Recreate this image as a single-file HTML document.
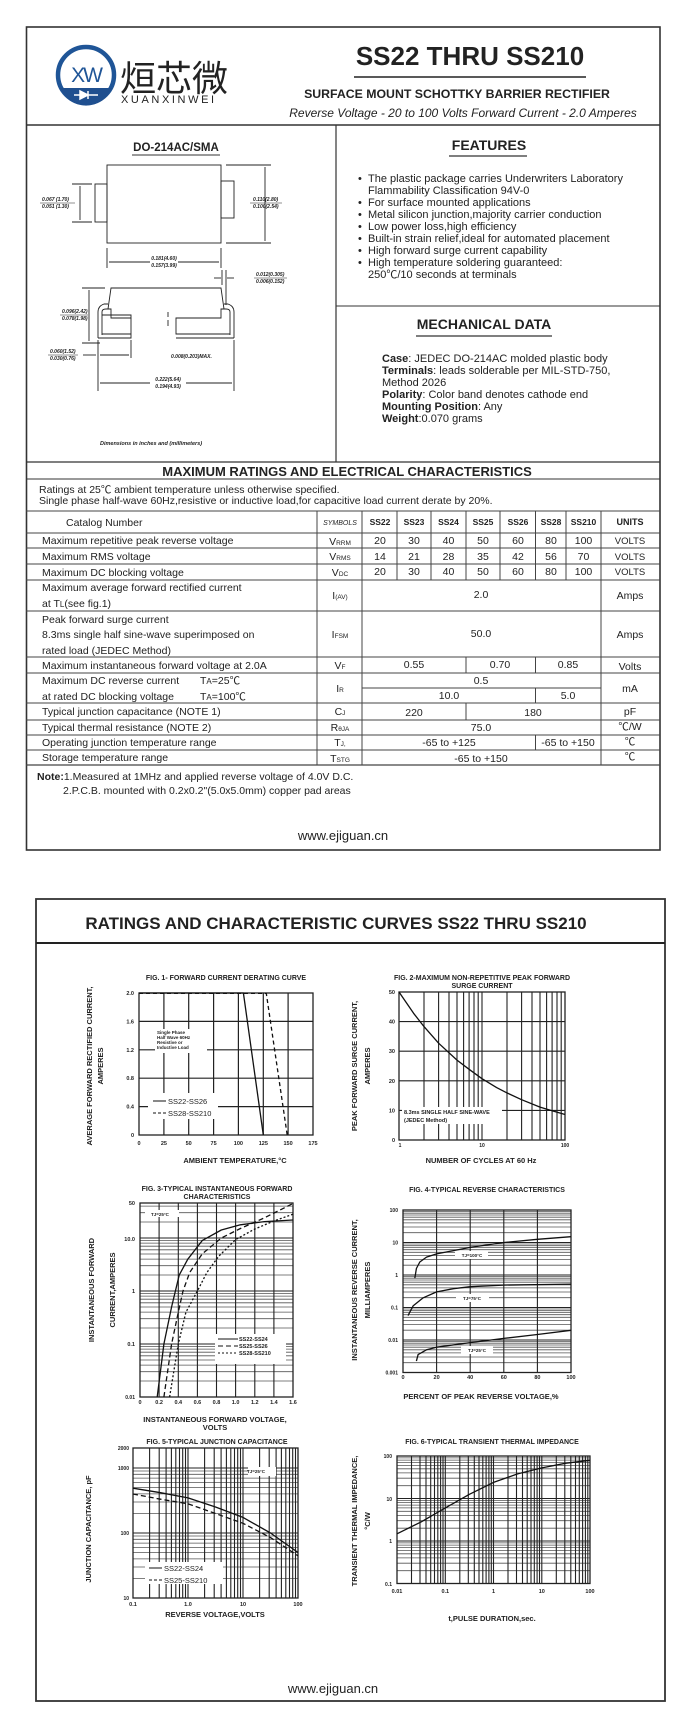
<!DOCTYPE html>
<html><head><meta charset="utf-8">
<style>
html,body{margin:0;padding:0;background:#fff;}
svg{display:block;}
text{font-family:"Liberation Sans","Noto Sans CJK SC",sans-serif;fill:#222;}
.b{font-weight:bold;}
.d{font-size:5px;font-style:italic;font-weight:bold;}
.t{font-size:11px;}
.ft{font-size:7px;font-weight:bold;}
.ax{font-size:7.5px;font-weight:bold;}
.k{font-size:5.5px;font-weight:bold;}
.gM{fill:none;stroke:#222;stroke-width:1.1;}
.gm{fill:none;stroke:#555;stroke-width:0.8;}
.bx{fill:none;stroke:#222;stroke-width:1.3;}
.c{fill:none;stroke:#111;stroke-width:1.3;stroke-linejoin:round;}
</style></head><body>
<svg width="694" height="1736" viewBox="0 0 694 1736" xmlns="http://www.w3.org/2000/svg">
<rect width="694" height="1736" fill="#fff"/>
<!-- PAGE 1 -->
<rect x="26.5" y="27" width="633.5" height="823" fill="none" stroke="#333" stroke-width="1.6"/>
<line x1="26" y1="125" x2="660" y2="125" stroke="#333" stroke-width="1.5"/>
<line x1="336" y1="125" x2="336" y2="462" stroke="#333" stroke-width="1.2"/>
<line x1="336" y1="306" x2="660" y2="306" stroke="#333" stroke-width="1"/>
<line x1="26" y1="462" x2="660" y2="462" stroke="#333" stroke-width="1.2"/>
<line x1="26" y1="479" x2="660" y2="479" stroke="#333" stroke-width="1"/>
<!-- logo -->
<circle cx="86" cy="75" r="28" fill="none" stroke="#1f5597" stroke-width="4.5"/>
<path d="M60,88 A28,28 0 0 0 112,88 Z" fill="#1f4f8f"/>
<path d="M74,95 L98,95 M80,91 L80,99 L88,95 Z M88,91 L88,99" stroke="#fff" stroke-width="1.5" fill="#fff"/>
<text x="86" y="82" text-anchor="middle" style="font-size:21px;fill:#1f5597;letter-spacing:-2px">XW</text>
<text x="120" y="91" style="font-size:36px;font-family:'Noto Sans CJK SC','WenQuanYi Zen Hei',sans-serif;fill:#222;">烜芯微</text>
<text x="121" y="103" style="font-size:11px;letter-spacing:2.6px">XUANXINWEI</text>
<text x="470" y="65" text-anchor="middle" class="b" style="font-size:26px">SS22 THRU SS210</text>
<line x1="354" y1="77" x2="586" y2="77" stroke="#222" stroke-width="1.5"/>
<text x="457" y="98" text-anchor="middle" class="b" style="font-size:12.3px">SURFACE MOUNT SCHOTTKY BARRIER RECTIFIER</text>
<text x="463" y="117" text-anchor="middle" style="font-size:12px;font-style:italic">Reverse Voltage - 20 to 100 Volts    Forward Current -  2.0 Amperes</text>
<!-- drawing -->
<text x="176" y="151" text-anchor="middle" class="b" style="font-size:11.5px">DO-214AC/SMA</text>
<line x1="132" y1="155" x2="220" y2="155" stroke="#333"/>
<g fill="none" stroke="#222" stroke-width="0.9">
<rect x="107" y="165" width="114" height="78"/>
<rect x="95" y="184" width="12" height="38"/>
<rect x="221" y="181" width="13" height="37"/>
<line x1="72" y1="184" x2="92" y2="184"/><line x1="72" y1="222" x2="92" y2="222"/>
<line x1="80" y1="186" x2="80" y2="220"/>
<line x1="226" y1="165" x2="271" y2="165"/><line x1="226" y1="243" x2="271" y2="243"/>
<line x1="265" y1="167" x2="265" y2="241"/>
<line x1="107" y1="248" x2="107" y2="268"/><line x1="221" y1="248" x2="221" y2="268"/>
<line x1="109" y1="262" x2="150" y2="262"/><line x1="178" y1="262" x2="219" y2="262"/>
<path d="M108,309 L111,288 L221,288 L224,309"/>
<path d="M98,338 L98,312 Q98,306 104,304 L108,304 M102,335 L102,312 Q102,309 106,309 L111,309 L111,318 L131,318 L131,315 L102,315"/>
<path d="M98,338 L131,338 L131,334 L102,334 M234,338 L234,312 Q234,306 228,304 L224,304 M230,335 L230,312 Q230,309 226,309 L221,309 L221,318 L176,318 L176,334 L230,334 M176,338 L234,338 M131,334 L131,318 M131,338 L131,334"/>
<line x1="82" y1="288" x2="105" y2="288"/><line x1="82" y1="343" x2="100" y2="343"/>
<line x1="89" y1="290" x2="89" y2="341"/>
<line x1="222" y1="270" x2="222" y2="285"/><line x1="226" y1="270" x2="226" y2="305"/>
<line x1="214" y1="278" x2="221" y2="278"/><line x1="227" y1="278" x2="234" y2="278"/>
<line x1="98" y1="340" x2="98" y2="391"/><line x1="234" y1="340" x2="234" y2="391"/>
<line x1="131" y1="340" x2="131" y2="358"/>
<line x1="83" y1="355" x2="96" y2="355"/><line x1="100" y1="355" x2="129" y2="355"/>
<line x1="100" y1="383" x2="150" y2="383"/><line x1="186" y1="383" x2="232" y2="383"/>
<line x1="168" y1="312" x2="168" y2="317"/><line x1="168" y1="320" x2="168" y2="326"/>
</g>
<g>
<text x="42" y="201" class="d">0.067 (1.70)</text><line x1="40" y1="203" x2="75" y2="203" stroke="#222" stroke-width=".5"/><text x="42" y="208" class="d">0.051 (1.30)</text>
<text x="253" y="201" class="d">0.110(2.80)</text><line x1="250" y1="203" x2="282" y2="203" stroke="#222" stroke-width=".5"/><text x="253" y="208" class="d">0.100(2.54)</text>
<text x="164" y="260" text-anchor="middle" class="d">0.181(4.60)</text><text x="164" y="267" text-anchor="middle" class="d">0.157(3.99)</text>
<text x="256" y="276" class="d">0.012(0.305)</text><line x1="254" y1="278" x2="287" y2="278" stroke="#222" stroke-width=".5"/><text x="256" y="283" class="d">0.006(0.152)</text>
<text x="62" y="313" class="d">0.096(2.42)</text><line x1="60" y1="315" x2="88" y2="315" stroke="#222" stroke-width=".5"/><text x="62" y="320" class="d">0.078(1.98)</text>
<text x="50" y="353" class="d">0.060(1.52)</text><line x1="48" y1="355" x2="78" y2="355" stroke="#222" stroke-width=".5"/><text x="50" y="360" class="d">0.030(0.76)</text>
<text x="171" y="358" class="d">0.008(0.203)MAX.</text>
<text x="168" y="381" text-anchor="middle" class="d">0.222(5.64)</text><text x="168" y="388" text-anchor="middle" class="d">0.194(4.93)</text>
<text x="100" y="445" class="d" style="font-size:5.5px">Dimensions in inches and (millimeters)</text>
</g>
<!-- features -->
<text x="489" y="150" text-anchor="middle" class="b" style="font-size:14px">FEATURES</text>
<line x1="449" y1="156" x2="527" y2="156" stroke="#333" stroke-width="1.2"/>
<g style="font-size:11px">
<text x="358" y="182">•</text><text x="368" y="182">The plastic package carries Underwriters Laboratory</text>
<text x="368" y="194">Flammability Classification 94V-0</text>
<text x="358" y="206">•</text><text x="368" y="206">For surface mounted applications</text>
<text x="358" y="218">•</text><text x="368" y="218">Metal silicon junction,majority carrier conduction</text>
<text x="358" y="230">•</text><text x="368" y="230">Low power loss,high efficiency</text>
<text x="358" y="242">•</text><text x="368" y="242">Built-in strain relief,ideal for automated placement</text>
<text x="358" y="254">•</text><text x="368" y="254">High forward surge current capability</text>
<text x="358" y="266">•</text><text x="368" y="266">High temperature soldering guaranteed:</text>
<text x="368" y="278">250℃/10 seconds at terminals</text>
</g>
<text x="484" y="329" text-anchor="middle" class="b" style="font-size:14px">MECHANICAL DATA</text>
<line x1="416" y1="336" x2="552" y2="336" stroke="#333" stroke-width="1.2"/>
<g style="font-size:11px">
<text x="382" y="362"><tspan class="b">Case</tspan>: JEDEC DO-214AC molded plastic body</text>
<text x="382" y="374"><tspan class="b">Terminals</tspan>: leads solderable per MIL-STD-750,</text>
<text x="382" y="386">Method 2026</text>
<text x="382" y="398"><tspan class="b">Polarity</tspan>: Color band denotes cathode end</text>
<text x="382" y="410"><tspan class="b">Mounting Position</tspan>: Any</text>
<text x="382" y="422"><tspan class="b">Weight</tspan>:0.070 grams</text>
</g>
<!-- ratings table -->
<text x="347" y="476" text-anchor="middle" class="b" style="font-size:13px">MAXIMUM RATINGS AND ELECTRICAL CHARACTERISTICS</text>
<text x="39" y="493" style="font-size:10.5px">Ratings at 25℃ ambient temperature unless otherwise specified.</text>
<text x="39" y="504" style="font-size:10.5px">Single phase half-wave 60Hz,resistive or inductive load,for capacitive load current derate by 20%.</text>
<g stroke="#444" stroke-width="1">
<line x1="26" y1="511" x2="660" y2="511"/>
<line x1="26" y1="533" x2="660" y2="533"/>
<line x1="26" y1="548" x2="660" y2="548"/>
<line x1="26" y1="564" x2="660" y2="564"/>
<line x1="26" y1="580" x2="660" y2="580"/>
<line x1="26" y1="611" x2="660" y2="611"/>
<line x1="26" y1="657" x2="660" y2="657"/>
<line x1="26" y1="673" x2="660" y2="673"/>
<line x1="362" y1="688" x2="601" y2="688"/>
<line x1="26" y1="703" x2="660" y2="703"/>
<line x1="26" y1="720" x2="660" y2="720"/>
<line x1="26" y1="735" x2="660" y2="735"/>
<line x1="26" y1="750" x2="660" y2="750"/>
<line x1="26" y1="765" x2="660" y2="765" stroke-width="1.3"/>
<line x1="317" y1="511" x2="317" y2="765"/>
<line x1="362" y1="511" x2="362" y2="765"/>
<line x1="601" y1="511" x2="601" y2="765"/>
<line x1="397" y1="511" x2="397" y2="580"/>
<line x1="431" y1="511" x2="431" y2="580"/>
<line x1="466" y1="511" x2="466" y2="580"/>
<line x1="500" y1="511" x2="500" y2="580"/>
<line x1="535.5" y1="511" x2="535.5" y2="580"/>
<line x1="566" y1="511" x2="566" y2="580"/>
<line x1="466" y1="657" x2="466" y2="673"/>
<line x1="535.5" y1="657" x2="535.5" y2="673"/>
<line x1="535.5" y1="688" x2="535.5" y2="703"/>
<line x1="466" y1="703" x2="466" y2="720"/>
<line x1="535.5" y1="735" x2="535.5" y2="750"/>
</g>
<g style="font-size:10.5px">
<text x="66" y="526">Catalog  Number</text>
<text x="340" y="525" text-anchor="middle" style="font-size:7px;font-style:italic">SYMBOLS</text>
<g class="b" text-anchor="middle" style="font-size:8.5px">
<text x="380" y="525">SS22</text><text x="414" y="525">SS23</text><text x="448.5" y="525">SS24</text><text x="483" y="525">SS25</text><text x="518" y="525">SS26</text><text x="551" y="525">SS28</text><text x="583.5" y="525">SS210</text><text x="630" y="525" style="font-size:9px">UNITS</text>
</g>
<text x="42" y="544">Maximum repetitive peak reverse voltage</text>
<text x="42" y="560">Maximum RMS voltage</text>
<text x="42" y="576">Maximum DC blocking voltage</text>
<text x="42" y="591">Maximum average forward rectified current</text>
<text x="42" y="607">at T<tspan style="font-size:8px">L</tspan>(see fig.1)</text>
<text x="42" y="623">Peak forward surge current</text>
<text x="42" y="638">8.3ms single half sine-wave superimposed on</text>
<text x="42" y="654">rated load (JEDEC Method)</text>
<text x="42" y="669">Maximum instantaneous forward voltage at 2.0A</text>
<text x="42" y="684">Maximum DC reverse current</text><text x="200" y="684">T<tspan style="font-size:8px">A</tspan>=25℃</text>
<text x="42" y="700">at rated DC blocking voltage</text><text x="200" y="700">T<tspan style="font-size:8px">A</tspan>=100℃</text>
<text x="42" y="715">Typical junction capacitance (NOTE 1)</text>
<text x="42" y="731">Typical thermal resistance (NOTE 2)</text>
<text x="42" y="746">Operating junction temperature range</text>
<text x="42" y="761">Storage temperature range</text>
<g text-anchor="middle">
<text x="340" y="545">V<tspan style="font-size:6.5px">RRM</tspan></text>
<text x="340" y="560">V<tspan style="font-size:6.5px">RMS</tspan></text>
<text x="340" y="576">V<tspan style="font-size:6.5px">DC</tspan></text>
<text x="340" y="599">I<tspan style="font-size:6.5px">(AV)</tspan></text>
<text x="340" y="638">I<tspan style="font-size:6.5px">FSM</tspan></text>
<text x="340" y="669">V<tspan style="font-size:6.5px">F</tspan></text>
<text x="340" y="692">I<tspan style="font-size:6.5px">R</tspan></text>
<text x="340" y="715">C<tspan style="font-size:6.5px">J</tspan></text>
<text x="340" y="731">R<tspan style="font-size:6.5px">θJA</tspan></text>
<text x="340" y="746">T<tspan style="font-size:6.5px">J,</tspan></text>
<text x="340" y="762">T<tspan style="font-size:6.5px">STG</tspan></text>
<text x="380" y="544">20</text><text x="414" y="544">30</text><text x="448.5" y="544">40</text><text x="483" y="544">50</text><text x="518" y="544">60</text><text x="551" y="544">80</text><text x="583.5" y="544">100</text><text x="630" y="544" style="font-size:9.5px">VOLTS</text>
<text x="380" y="560">14</text><text x="414" y="560">21</text><text x="448.5" y="560">28</text><text x="483" y="560">35</text><text x="518" y="560">42</text><text x="551" y="560">56</text><text x="583.5" y="560">70</text><text x="630" y="560" style="font-size:9.5px">VOLTS</text>
<text x="380" y="575">20</text><text x="414" y="575">30</text><text x="448.5" y="575">40</text><text x="483" y="575">50</text><text x="518" y="575">60</text><text x="551" y="575">80</text><text x="583.5" y="575">100</text><text x="630" y="575" style="font-size:9.5px">VOLTS</text>
<text x="481" y="598">2.0</text><text x="630" y="599">Amps</text>
<text x="481" y="637">50.0</text><text x="630" y="638">Amps</text>
<text x="414" y="668">0.55</text><text x="500" y="668">0.70</text><text x="568" y="668">0.85</text><text x="630" y="670">Volts</text>
<text x="481" y="684">0.5</text><text x="449" y="699">10.0</text><text x="568" y="699">5.0</text><text x="630" y="692">mA</text>
<text x="414" y="716">220</text><text x="533" y="716">180</text><text x="630" y="715">pF</text>
<text x="481" y="731">75.0</text><text x="630" y="730">℃/W</text>
<text x="449" y="746">-65 to +125</text><text x="568" y="746">-65 to +150</text><text x="630" y="745">℃</text>
<text x="481" y="762">-65 to +150</text><text x="630" y="760">℃</text>
</g>
<text x="37" y="780"><tspan class="b">Note:</tspan>1.Measured at 1MHz and applied reverse voltage of 4.0V D.C.</text>
<text x="63" y="794">2.P.C.B. mounted with 0.2x0.2"(5.0x5.0mm) copper pad areas</text>
</g>
<text x="343" y="840" text-anchor="middle" style="font-size:13px">www.ejiguan.cn</text>

<!-- PAGE 2 -->
<rect x="36" y="899" width="629" height="802" fill="none" stroke="#333" stroke-width="1.8"/>
<line x1="36" y1="943" x2="665" y2="943" stroke="#222" stroke-width="2"/>
<text x="336" y="929" text-anchor="middle" class="b" style="font-size:17px">RATINGS AND CHARACTERISTIC CURVES SS22 THRU SS210</text>

<!-- FIG 1 -->
<path class="gM" style="stroke-width:1.2" d="M163.9 993V1135M188.7 993V1135M213.6 993V1135M238.4 993V1135M263.3 993V1135M288.1 993V1135M139 1106.6H313M139 1078.2H313M139 1049.8H313M139 1021.4H313"/>
<rect x="155" y="1029" width="52" height="24" fill="#fff"/>
<rect x="148" y="1093" width="70" height="26" fill="#fff"/>
<rect class="bx" x="139" y="993" width="174" height="142"/>
<polyline class="c" points="139,993 243.4,993 263.3,1135"/>
<polyline class="c" style="stroke-dasharray:4,3" points="139,993.4 266.3,993.4 287.2,1135"/>
<line x1="153" y1="1101" x2="166" y2="1101" stroke="#111"/>
<line x1="153" y1="1113" x2="166" y2="1113" stroke="#111" stroke-dasharray="3,2"/>
<text x="168" y="1104" style="font-size:7.5px">SS22-SS26</text>
<text x="168" y="1116" style="font-size:7.5px">SS28-SS210</text>
<g class="b" style="font-size:4.5px"><text x="157" y="1034">Single Phase</text><text x="157" y="1039">Half Wave 60Hz</text><text x="157" y="1044">Resistive or</text><text x="157" y="1049">Inductive Load</text></g>
<g class="k" text-anchor="middle"><text x="139" y="1145">0</text><text x="163.9" y="1145">25</text><text x="188.7" y="1145">50</text><text x="213.6" y="1145">75</text><text x="238.4" y="1145">100</text><text x="263.3" y="1145">125</text><text x="288.1" y="1145">150</text><text x="313" y="1145">175</text></g>
<g class="k" text-anchor="end"><text x="134" y="1137">0</text><text x="134" y="1108.6">0.4</text><text x="134" y="1080.2">0.8</text><text x="134" y="1051.8">1.2</text><text x="134" y="1023.4">1.6</text><text x="134" y="995">2.0</text></g>

<!-- FIG 2 -->
<path class="gM" d="M424 992V1140M438.6 992V1140M449 992V1140M457 992V1140M463.6 992V1140M469.1 992V1140M474 992V1140M478.2 992V1140M482 992V1140M507 992V1140M521.6 992V1140M532 992V1140M540 992V1140M546.6 992V1140M552.1 992V1140M557 992V1140M561.2 992V1140M399 1110.4H565M399 1080.8H565M399 1051.2H565M399 1021.6H565"/>
<rect x="402" y="1107" width="100" height="17" fill="#fff"/>
<rect class="bx" x="399" y="992" width="166" height="148"/>
<polyline class="c" points="399,992 413.6,1013.3 424,1026.6 438.6,1043.2 457,1060.1 469.1,1069.3 482,1078.7 496.6,1087.6 507,1092.9 521.6,1099.7 540,1107.1 552.1,1110.7 565,1114.5"/>
<text x="404" y="1114" class="k">8.3ms SINGLE HALF SINE-WAVE</text>
<text x="404" y="1122" class="k">(JEDEC Method)</text>
<g class="k" text-anchor="end"><text x="395" y="1142">0</text><text x="395" y="1112.4">10</text><text x="395" y="1082.8">20</text><text x="395" y="1053.2">30</text><text x="395" y="1023.6">40</text><text x="395" y="994">50</text></g>
<g class="k" text-anchor="middle" style="font-size:5px"><text x="400" y="1147">1</text><text x="482" y="1147">10</text><text x="565" y="1147">100</text></g>

<!-- FIG 3 -->
<path class="gm" d="M140 1381H293M140 1371.7H293M140 1365.1H293M140 1360H293M140 1355.8H293M140 1352.2H293M140 1349.1H293M140 1346.4H293M140 1328H293M140 1318.7H293M140 1312.1H293M140 1307H293M140 1302.8H293M140 1299.2H293M140 1296.1H293M140 1293.4H293M140 1275H293M140 1265.7H293M140 1259.1H293M140 1254H293M140 1249.8H293M140 1246.2H293M140 1243.1H293M140 1240.4H293M140 1222H293M140 1212.7H293M140 1206.1H293"/>
<path class="gM" d="M140 1344H293M140 1291H293M140 1238H293M159.1 1203V1397M178.3 1203V1397M197.4 1203V1397M216.5 1203V1397M235.6 1203V1397M254.8 1203V1397M273.9 1203V1397"/>
<rect x="145" y="1210" width="34" height="7" fill="#fff"/>
<rect x="215" y="1334" width="71" height="30" fill="#fff"/>
<rect class="bx" x="140" y="1203" width="153" height="194"/>
<polyline class="c" points="157.2,1397 163.9,1344 171.6,1306.9 175.4,1291 179.2,1275.1 187.8,1259.2 202.2,1240.6 221.3,1230 240.4,1224.8 264.3,1221.6 293,1220"/>
<polyline class="c" style="stroke-dasharray:5,3" points="163.9,1397 171.6,1344 178.3,1312.2 183,1291 189.7,1272.5 202.2,1253.9 221.3,1238 240.4,1228.5 264.3,1217.9 293,1203.5"/>
<polyline class="c" style="stroke-dasharray:2,2" points="169.6,1397 178.3,1344 185.9,1312.2 197.4,1291 206.9,1272.5 218.4,1256.6 235.6,1239.6 254.8,1229 273.9,1221 293,1214.2"/>
<text x="151" y="1216" class="b" style="font-size:4.5px">TJ=25°C</text>
<line x1="218" y1="1339" x2="238" y2="1339" stroke="#111"/>
<line x1="218" y1="1346" x2="238" y2="1346" stroke="#111" stroke-dasharray="5,3"/>
<line x1="218" y1="1353" x2="238" y2="1353" stroke="#111" stroke-dasharray="2,2"/>
<g class="k"><text x="239" y="1341">SS22-SS24</text><text x="239" y="1348">SS25-SS26</text><text x="239" y="1355">SS28-SS210</text></g>
<g class="k" text-anchor="end"><text x="135" y="1205">50</text><text x="135" y="1241">10.0</text><text x="135" y="1293">1</text><text x="135" y="1346">0.1</text><text x="135" y="1399" style="font-size:5px">0.01</text></g>
<g class="k" text-anchor="middle"><text x="140" y="1404">0</text><text x="159.1" y="1404">0.2</text><text x="178.3" y="1404">0.4</text><text x="197.4" y="1404">0.6</text><text x="216.5" y="1404">0.8</text><text x="235.6" y="1404">1.0</text><text x="254.8" y="1404">1.2</text><text x="273.9" y="1404">1.4</text><text x="293" y="1404">1.6</text></g>

<!-- FIG 4 -->
<path class="gm" d="M403 1362.7H571M403 1357H571M403 1352.9H571M403 1349.8H571M403 1347.2H571M403 1345H571M403 1343.2H571M403 1341.5H571M403 1330.2H571M403 1324.5H571M403 1320.4H571M403 1317.3H571M403 1314.7H571M403 1312.5H571M403 1310.7H571M403 1309H571M403 1297.7H571M403 1292H571M403 1287.9H571M403 1284.8H571M403 1282.2H571M403 1280H571M403 1278.2H571M403 1276.5H571M403 1265.2H571M403 1259.5H571M403 1255.4H571M403 1252.3H571M403 1249.7H571M403 1247.5H571M403 1245.7H571M403 1244H571M403 1232.7H571M403 1227H571M403 1222.9H571M403 1219.8H571M403 1217.2H571M403 1215H571M403 1213.2H571M403 1211.5H571"/>
<path class="gM" d="M403 1340H571M403 1307.5H571M403 1275H571M403 1242.5H571M436.6 1210V1372.5M470.2 1210V1372.5M503.8 1210V1372.5M537.4 1210V1372.5"/>
<rect x="455" y="1251" width="33" height="8" fill="#fff"/>
<rect x="456" y="1294" width="33" height="8" fill="#fff"/>
<rect x="461" y="1346" width="32" height="8" fill="#fff"/>
<rect class="bx" x="403" y="1210" width="168" height="162.5"/>
<polyline class="c" points="414.8,1278.3 416.4,1268.5 419.8,1262 426.5,1257.1 436.6,1253.9 470.2,1247.4 503.8,1242.5 537.4,1239.3 571,1236.7"/>
<polyline class="c" points="408,1315.6 413.1,1305.9 423.2,1297.8 436.6,1291.9 453.4,1288.7 470.2,1286.7 503.8,1285.1 571,1284.1"/>
<polyline class="c" points="416.4,1361.1 418.1,1354.6 426.5,1349.8 436.6,1347.2 470.2,1342.6 503.8,1338.4 537.4,1334.5 571,1330.3"/>
<g class="b" style="font-size:4.5px" text-anchor="middle"><text x="472" y="1257">TJ=100°C</text><text x="472" y="1300">TJ=75°C</text><text x="477" y="1352">TJ=25°C</text></g>
<g class="k" text-anchor="end" style="font-size:5px"><text x="398" y="1212">100</text><text x="398" y="1244.5">10</text><text x="398" y="1277">1</text><text x="398" y="1309.5">0.1</text><text x="398" y="1342">0.01</text><text x="398" y="1374.5">0.001</text></g>
<g class="k" text-anchor="middle"><text x="403" y="1379">0</text><text x="436.6" y="1379">20</text><text x="470.2" y="1379">40</text><text x="503.8" y="1379">60</text><text x="537.4" y="1379">80</text><text x="571" y="1379">100</text></g>

<!-- FIG 5 -->
<path class="gm" d="M133 1578.4H298M133 1567H298M133 1558.9H298M133 1552.6H298M133 1547.4H298M133 1543.1H298M133 1539.3H298M133 1536H298M133 1513.4H298M133 1502H298M133 1493.9H298M133 1487.6H298M133 1482.4H298M133 1478.1H298M133 1474.3H298M133 1471H298"/>
<path class="gM" d="M133 1533H298M133 1468H298M149.6 1448V1598M159.2 1448V1598M166.1 1448V1598M171.4 1448V1598M175.8 1448V1598M179.5 1448V1598M182.7 1448V1598M185.5 1448V1598M188 1448V1598M204.6 1448V1598M214.2 1448V1598M221.1 1448V1598M226.4 1448V1598M230.8 1448V1598M234.5 1448V1598M237.7 1448V1598M240.5 1448V1598M243 1448V1598M259.6 1448V1598M269.2 1448V1598M276.1 1448V1598M281.4 1448V1598M285.8 1448V1598M289.5 1448V1598M292.7 1448V1598M295.5 1448V1598"/>
<rect x="248" y="1467" width="28" height="9" fill="#fff"/>
<rect x="145" y="1562" width="78" height="22" fill="#fff"/>
<rect class="bx" x="133" y="1448" width="165" height="150"/>
<polyline class="c" points="133,1488.2 160.5,1492.7 188,1497.9 215.5,1507 243,1517.4 270.5,1533 298,1552.5"/>
<polyline class="c" style="stroke-dasharray:5,3" points="133,1494 160.5,1499.2 188,1503.8 215.5,1513.5 243,1523.3 270.5,1537.6 298,1555.8"/>
<text x="256" y="1473" text-anchor="middle" class="b" style="font-size:4.5px">TJ=25°C</text>
<line x1="149" y1="1568" x2="162" y2="1568" stroke="#111"/>
<line x1="149" y1="1580" x2="162" y2="1580" stroke="#111" stroke-dasharray="3,2"/>
<text x="164" y="1571" style="font-size:7.5px">SS22-SS24</text>
<text x="164" y="1583" style="font-size:7.5px">SS25-SS210</text>
<g class="k" text-anchor="end" style="font-size:5px"><text x="129" y="1450">2000</text><text x="129" y="1470">1000</text><text x="129" y="1535">100</text><text x="129" y="1600">10</text></g>
<g class="k" text-anchor="middle"><text x="133" y="1606">0.1</text><text x="188" y="1606">1.0</text><text x="243" y="1606">10</text><text x="298" y="1606">100</text></g>

<!-- FIG 6 -->
<path class="gm" d="M397 1570.7H590M397 1563.2H590M397 1557.9H590M397 1553.8H590M397 1550.4H590M397 1547.6H590M397 1545.1H590M397 1542.9H590M397 1528.2H590M397 1520.7H590M397 1515.4H590M397 1511.3H590M397 1507.9H590M397 1505.1H590M397 1502.6H590M397 1500.4H590M397 1485.7H590M397 1478.2H590M397 1472.9H590M397 1468.8H590M397 1465.4H590M397 1462.6H590M397 1460.1H590M397 1457.9H590"/>
<path class="gM" d="M397 1541H590M397 1498.5H590M411.5 1456V1583.5M420 1456V1583.5M426 1456V1583.5M430.7 1456V1583.5M434.5 1456V1583.5M437.8 1456V1583.5M440.6 1456V1583.5M443 1456V1583.5M445.3 1456V1583.5M459.8 1456V1583.5M468.3 1456V1583.5M474.3 1456V1583.5M479 1456V1583.5M482.8 1456V1583.5M486.1 1456V1583.5M488.9 1456V1583.5M491.3 1456V1583.5M493.5 1456V1583.5M508 1456V1583.5M516.5 1456V1583.5M522.5 1456V1583.5M527.2 1456V1583.5M531 1456V1583.5M534.3 1456V1583.5M537.1 1456V1583.5M539.5 1456V1583.5M541.8 1456V1583.5M556.3 1456V1583.5M564.8 1456V1583.5M570.8 1456V1583.5M575.5 1456V1583.5M579.3 1456V1583.5M582.6 1456V1583.5M585.4 1456V1583.5M587.8 1456V1583.5"/>
<rect class="bx" x="397" y="1456" width="193" height="127.5"/>
<polyline class="c" points="397,1533.8 421.1,1521.9 445.3,1507.9 469.4,1494.3 493.5,1482.4 517.6,1473.9 541.8,1467.9 565.9,1463.2 590,1460.3"/>
<g class="k" text-anchor="end" style="font-size:5px"><text x="392" y="1458">100</text><text x="392" y="1501">10</text><text x="392" y="1543">1</text><text x="392" y="1586">0.1</text></g>
<g class="k" text-anchor="middle"><text x="397" y="1593">0.01</text><text x="445.3" y="1593">0.1</text><text x="493.5" y="1593">1</text><text x="541.8" y="1593">10</text><text x="590" y="1593">100</text></g>

<!-- fig texts -->
<text x="226" y="980" text-anchor="middle" class="ft">FIG. 1- FORWARD CURRENT DERATING CURVE</text>
<text x="482" y="980" text-anchor="middle" class="ft">FIG. 2-MAXIMUM NON-REPETITIVE PEAK FORWARD</text>
<text x="482" y="988" text-anchor="middle" class="ft">SURGE CURRENT</text>
<text x="217" y="1191" text-anchor="middle" class="ft">FIG. 3-TYPICAL INSTANTANEOUS FORWARD</text>
<text x="217" y="1199" text-anchor="middle" class="ft">CHARACTERISTICS</text>
<text x="487" y="1192" text-anchor="middle" class="ft">FIG. 4-TYPICAL REVERSE CHARACTERISTICS</text>
<text x="217" y="1444" text-anchor="middle" class="ft">FIG. 5-TYPICAL JUNCTION CAPACITANCE</text>
<text x="492" y="1444" text-anchor="middle" class="ft">FIG. 6-TYPICAL TRANSIENT THERMAL IMPEDANCE</text>
<text x="235" y="1163" text-anchor="middle" class="ax">AMBIENT TEMPERATURE,°C</text>
<text x="481" y="1163" text-anchor="middle" class="ax">NUMBER OF CYCLES AT 60 Hz</text>
<text x="215" y="1422" text-anchor="middle" class="ax">INSTANTANEOUS FORWARD VOLTAGE,</text>
<text x="215" y="1430" text-anchor="middle" class="ax">VOLTS</text>
<text x="481" y="1399" text-anchor="middle" class="ax">PERCENT OF PEAK REVERSE VOLTAGE,%</text>
<text x="215" y="1617" text-anchor="middle" class="ax">REVERSE VOLTAGE,VOLTS</text>
<text x="492" y="1621" text-anchor="middle" class="ax">t,PULSE DURATION,sec.</text>
<text transform="translate(92,1066) rotate(-90)" text-anchor="middle" class="ax">AVERAGE FORWARD RECTIFIED CURRENT,</text>
<text transform="translate(103,1066) rotate(-90)" text-anchor="middle" class="ax">AMPERES</text>
<text transform="translate(357,1066) rotate(-90)" text-anchor="middle" class="ax">PEAK   FORWARD SURGE CURRENT,</text>
<text transform="translate(370,1066) rotate(-90)" text-anchor="middle" class="ax">AMPERES</text>
<text transform="translate(94,1290) rotate(-90)" text-anchor="middle" class="ax">INSTANTANEOUS FORWARD</text>
<text transform="translate(115,1290) rotate(-90)" text-anchor="middle" class="ax">CURRENT,AMPERES</text>
<text transform="translate(357,1290) rotate(-90)" text-anchor="middle" class="ax">INSTANTANEOUS REVERSE CURRENT,</text>
<text transform="translate(370,1290) rotate(-90)" text-anchor="middle" class="ax">MILLIAMPERES</text>
<text transform="translate(91,1529) rotate(-90)" text-anchor="middle" class="ax">JUNCTION CAPACITANCE, pF</text>
<text transform="translate(357,1521) rotate(-90)" text-anchor="middle" class="ax">TRANSIENT THERMAL IMPEDANCE,</text>
<text transform="translate(370,1521) rotate(-90)" text-anchor="middle" class="ax">°C/W</text>
<text x="333" y="1693" text-anchor="middle" style="font-size:13px">www.ejiguan.cn</text>
</svg>
</body></html>
